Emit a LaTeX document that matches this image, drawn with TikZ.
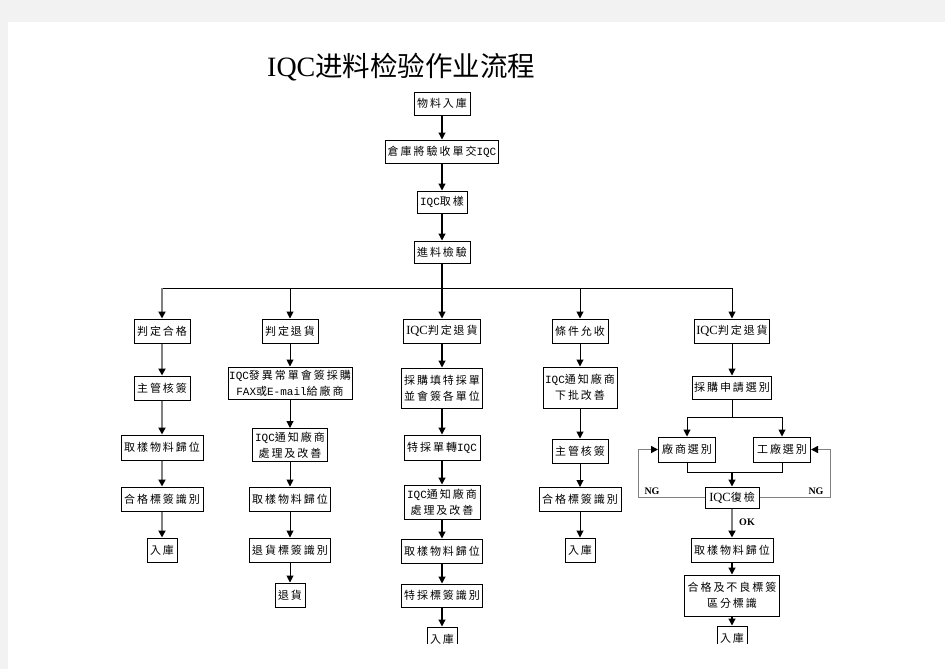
\documentclass[tikz,border=0pt]{standalone}
\usepackage{fontspec}
\setmainfont{Liberation Serif}
\newfontfamily\cjkf[LetterSpace=18]{Noto Sans CJK TC}
\newfontfamily\cjktitle{Noto Sans CJK SC}
\newfontfamily\monof{Liberation Mono}
\newfontfamily\serf{Liberation Serif}
\usetikzlibrary{arrows.meta}
\newcommand{\mq}[1]{{\monof #1}}
\newcommand{\sq}[1]{{\serf\fontsize{12.5}{16}\selectfont #1}}
\begin{document}
\begin{tikzpicture}[x=1pt,y=1pt,
  box/.style={draw=black,line width=1pt,inner sep=0pt,align=center,
    font=\cjkf\fontsize{11}{16}\selectfont},
  arr/.style={line width=1.2pt,-{Triangle[width=7pt,length=7pt]}},
  tarr/.style={line width=1pt,-{Triangle[width=7pt,length=7pt]}},
  garr/.style={draw=black!50,line width=2pt,-{Triangle[width=7pt,length=7pt,color=black]}},
  gline/.style={draw=black!50,line width=1.5pt},
  ln/.style={line width=1pt},
  lbl/.style={font=\serf\bfseries\fontsize{10}{12}\selectfont,inner sep=0pt}]
\useasboundingbox (0,0) rectangle (945,-669);
\fill[black!5] (0,0) rectangle (945,-669);
\fill[white] (8,-22) rectangle (945,-669);

% title
\node[inner sep=0pt,anchor=west] (title) at (267,-67)
  {\serf\fontsize{28}{30}\selectfont IQC\cjktitle\fontsize{27.5}{30}\selectfont 进料检验作业流程};

% spine
\node[box,minimum width=56,minimum height=23] (n1) at (442,-103.5) {物料入庫};
\node[box,minimum width=113,minimum height=23] (n2) at (442,-151.5) {倉庫將驗收單交\mq{IQC}};
\node[box,minimum width=50,minimum height=22] (n3) at (442,-202) {\mq{IQC}取樣};
\node[box,minimum width=56,minimum height=22] (n4) at (442,-252) {進料檢驗};
\draw[arr] (n1) -- (n2);
\draw[arr] (n2) -- (n3);
\draw[arr] (n3) -- (n4);

% column 1
\node[box,minimum width=56,minimum height=24] (c1a) at (162,-331) {判定合格};
\node[box,minimum width=56,minimum height=24] (c1b) at (162,-388) {主管核簽};
\node[box,minimum width=82,minimum height=25] (c1c) at (162,-447.5) {取樣物料歸位};
\node[box,minimum width=82,minimum height=24] (c1d) at (162,-499) {合格標簽識別};
\node[box,minimum width=30,minimum height=24] (c1e) at (162,-550) {入庫};

% column 2
\node[box,minimum width=124,minimum height=32] (c2b) at (290,-383)
  {\mq{IQC}發異常單會簽採購\\\mq{FAX}或\mq{E-mail}給廠商};
\node[box,minimum width=56,minimum height=24] (c2a) at (290,-331) {判定退貨};
\node[box,minimum width=75,minimum height=33] (c2c) at (290,-445)
  {\mq{IQC}通知廠商\\處理及改善};
\node[box,minimum width=81,minimum height=24] (c2d) at (290,-499) {取樣物料歸位};
\node[box,minimum width=81,minimum height=24] (c2e) at (290,-550) {退貨標簽識別};
\node[box,minimum width=30,minimum height=24] (c2f) at (290,-595) {退貨};

% column 3
\node[box,minimum width=77,minimum height=24] (c3a) at (442,-331) {\sq{IQC}判定退貨};
\node[box,minimum width=81,minimum height=40] (c3b) at (442,-388) {採購填特採單\\並會簽各單位};
\node[box,minimum width=76,minimum height=25] (c3c) at (442,-447.5) {特採單轉\mq{IQC}};
\node[box,minimum width=76,minimum height=34] (c3d) at (442,-502) {\mq{IQC}通知廠商\\處理及改善};
\node[box,minimum width=81,minimum height=24] (c3e) at (442,-551) {取樣物料歸位};
\node[box,minimum width=81,minimum height=23] (c3f) at (442,-595.5) {特採標簽識別};
\begin{scope}
\clip (400,-600) rectangle (480,-643.5);
\node[box,minimum width=30,minimum height=24] (c3g) at (442,-639) {入庫};
\end{scope}

% column 4
\node[box,minimum width=56,minimum height=24] (c4a) at (580,-331) {條件允收};
\node[box,minimum width=74,minimum height=41] (c4b) at (580,-387.5) {\mq{IQC}通知廠商\\下批改善};
\node[box,minimum width=56,minimum height=24] (c4c) at (580,-451) {主管核簽};
\node[box,minimum width=82,minimum height=24] (c4d) at (580,-499.5) {合格標簽識別};
\node[box,minimum width=30,minimum height=24] (c4e) at (580,-550) {入庫};

% column 5
\node[box,minimum width=75,minimum height=24] (c5a) at (732,-331) {\sq{IQC}判定退貨};
\node[box,minimum width=79,minimum height=23] (c5b) at (732,-387.5) {採購申請選別};
\node[box,minimum width=57,minimum height=25] (c5c) at (687,-449.5) {廠商選別};
\node[box,minimum width=57,minimum height=25] (c5d) at (782,-449.5) {工廠選別};
\node[box,minimum width=54,minimum height=21] (c5e) at (732,-497.5) {\sq{IQC}復檢};
\node[box,minimum width=82,minimum height=24] (c5f) at (732,-550) {取樣物料歸位};
\node[box,minimum width=95,minimum height=41] (c5g) at (732,-595.5) {合格及不良標簽\\區分標識};
\begin{scope}
\clip (690,-600) rectangle (770,-643.5);
\node[box,minimum width=30,minimum height=24] (c5h) at (732,-638) {入庫};
\end{scope}

% bus
\coordinate (bus) at (442,-288);
\draw[arr,-] (n4.south) -- (bus);
\draw[ln] (c1a.north |- bus) -- (c5a.north |- bus);
\draw[garr] (c1a.north |- bus) -- (c1a.north);
\draw[tarr] (c2a.north |- bus) -- (c2a.north);
\draw[arr] (bus) -- (c3a.north);
\draw[tarr] (c4a.north |- bus) -- (c4a.north);
\draw[tarr] (c5a.north |- bus) -- (c5a.north);

% column 1 links
\draw[garr] (c1a) -- (c1b);
\draw[garr] (c1b) -- (c1c);
\draw[garr] (c1c) -- (c1d);
\draw[garr] (c1d) -- (c1e);

% column 2 links
\draw[tarr] (c2a) -- (c2b);
\draw[tarr] (c2b) -- (c2c);
\draw[tarr] (c2c) -- (c2d);
\draw[tarr] (c2d) -- (c2e);
\draw[tarr] (c2e) -- (c2f);

% column 3 links
\draw[arr] (c3a) -- (c3b);
\draw[arr] (c3b) -- (c3c);
\draw[arr] (c3c) -- (c3d);
\draw[arr] (c3d) -- (c3e);
\draw[arr] (c3e) -- (c3f);
\draw[arr] (c3f.south) -- (c3g.north);

% column 4 links
\draw[tarr] (c4a) -- (c4b);
\draw[tarr] (c4b) -- (c4c);
\draw[tarr] (c4c) -- (c4d);
\draw[tarr] (c4d) -- (c4e);

% column 5 links
\draw[tarr] (c5a) -- (c5b);
\coordinate (sp) at (732,-417);
\draw[ln] (c5b.south) -- (sp);
\draw[ln] (c5c.north |- sp) -- (c5d.north |- sp);
\draw[tarr] (c5c.north |- sp) -- (c5c.north);
\draw[tarr] (c5d.north |- sp) -- (c5d.north);
\coordinate (jn) at (732,-472);
\draw[ln] (c5c.south) -- (c5c.south |- jn) -- (c5d.south |- jn) -- (c5d.south);
\draw[arr] (jn) -- (c5e.north);
\draw[gline,-{Triangle[width=7pt,length=7pt,color=black]}] (c5e.west) -- ++(-66,0) |- (c5c.west);
\draw[gline,-{Triangle[width=7pt,length=7pt,color=black]}] (c5e.east) -- ++(71,0) |- (c5d.east);
\node[lbl] (ngl) at (652,-491) {NG};
\node[lbl] (ngr) at (816,-491) {NG};
\draw[garr] (c5e) -- (c5f);
\node[lbl] (ok) at (747,-522) {OK};
\draw[arr] (c5f) -- (c5g);
\draw[arr] (c5g.south) -- (c5h.north);
\end{tikzpicture}
\end{document}
